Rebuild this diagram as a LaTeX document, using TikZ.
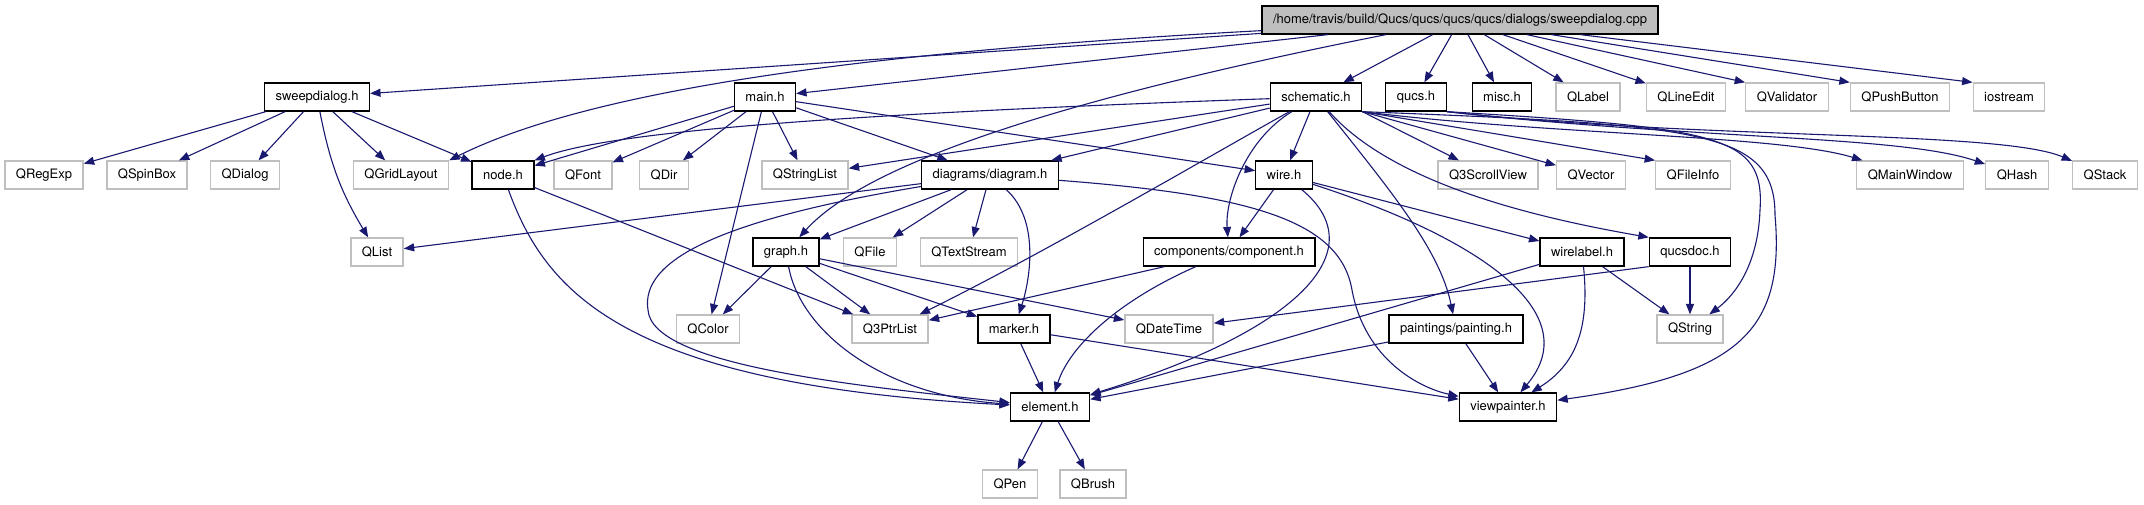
\documentclass[tikz,border=0pt]{standalone}
\usepackage{fontspec}
\setmainfont{TeX Gyre Heros}
\usetikzlibrary{arrows.meta}
\definecolor{edgeblue}{HTML}{191970}
\definecolor{qtgray}{HTML}{BFBFBF}

\begin{document}
\begin{tikzpicture}[x=0.5pt, y=-0.5pt,
    box/.style={draw, rectangle, minimum height=14pt, inner xsep=5.5pt, inner ysep=0pt, font=\fontsize{6.5}{7.8}\selectfont, line width=0.65pt},
    filebox/.style={box, draw=black},
    qtbox/.style={box, draw=qtgray},
    srcbox/.style={box, draw=black, fill=qtgray},
    arr/.style={-{Triangle[length=5.2pt, width=4pt]}, draw=edgeblue, line width=0.55pt},
]
\useasboundingbox (0,0) rectangle (2144,504);

% Source file
\node[srcbox] (root) at (1460,20) {/home/travis/build/Qucs/qucs/qucs/qucs/dialogs/sweepdialog.cpp};

% Direct includes
\node[filebox] (sweep) at (317,97) {sweepdialog.h};
\node[filebox] (mainh) at (765,97) {main.h};
\node[filebox] (schematic) at (1316,97) {schematic.h};
\node[filebox] (qucsh) at (1416,97) {qucs.h};
\node[filebox] (misch) at (1502,97) {misc.h};
\node[qtbox] (qlabel) at (1588,97) {QLabel};
\node[qtbox] (qlineedit) at (1686,97) {QLineEdit};
\node[qtbox] (qvalidator) at (1787,97) {QValidator};
\node[qtbox] (qpushbutton) at (1900,97) {QPushButton};
\node[qtbox] (iostream) at (2009,97) {iostream};

% Second level
\node[qtbox] (qregexp) at (44,175) {QRegExp};
\node[qtbox] (qspinbox) at (147,175) {QSpinBox};
\node[qtbox] (qdialog) at (245,175) {QDialog};
\node[qtbox] (qgridlayout) at (401,175) {QGridLayout};
\node[filebox] (nodeh) at (503,175) {node.h};
\node[qtbox] (qfont) at (583,175) {QFont};
\node[qtbox] (qdir) at (664,175) {QDir};
\node[qtbox] (qstringlist) at (805,175) {QStringList};
\node[filebox] (diagram) at (990,175) {diagrams/diagram.h};
\node[filebox] (wireh) at (1284,175) {wire.h};
\node[qtbox] (qscrollview) at (1488,175) {Q3ScrollView};
\node[qtbox] (qvector) at (1591,175) {QVector};
\node[qtbox] (qfileinfo) at (1693,175) {QFileInfo};
\node[qtbox] (qmainwindow) at (1910,175) {QMainWindow};
\node[qtbox] (qhash) at (2017,175) {QHash};
\node[qtbox] (qstack) at (2105,175) {QStack};

% Third level
\node[qtbox] (qlist) at (377,252) {QList};
\node[filebox] (graphh) at (786,252) {graph.h};
\node[qtbox] (qfile) at (870,252) {QFile};
\node[qtbox] (qtextstream) at (969,252) {QTextStream};
\node[filebox] (component) at (1229,252) {components/component.h};
\node[filebox] (wirelabel) at (1582,252) {wirelabel.h};
\node[filebox] (qucsdoc) at (1690,252) {qucsdoc.h};

% Fourth level
\node[qtbox] (qcolor) at (708,329) {QColor};
\node[qtbox] (qptrlist) at (890,329) {Q3PtrList};
\node[filebox] (marker) at (1014,329) {marker.h};
\node[qtbox] (qdatetime) at (1169,329) {QDateTime};
\node[filebox] (painting) at (1456,329) {paintings/painting.h};
\node[qtbox] (qstring) at (1690,329) {QString};

% Bottom
\node[filebox] (element) at (1050,407) {element.h};
\node[filebox] (viewpainter) at (1508,407) {viewpainter.h};
\node[qtbox] (qpen) at (1010,484) {QPen};
\node[qtbox] (qbrush) at (1093,484) {QBrush};

% Arrows from the source file
\draw[arr] (root) -- (sweep);
\draw[arr] (root) .. controls (900,50) and (600,85) .. (qgridlayout.north east);
\draw[arr] (root) -- (mainh);
\draw[arr] (root) .. controls (1030,105) and (860,170) .. (graphh);
\draw[arr] (root) -- (schematic);
\draw[arr] (root) -- (qucsh);
\draw[arr] (root) -- (misch);
\draw[arr] (root) -- (qlabel);
\draw[arr] (root) -- (qlineedit);
\draw[arr] (root) -- (qvalidator.north west);
\draw[arr] (root) -- (qpushbutton.north west);
\draw[arr] (root) -- (iostream.north west);

% sweepdialog.h
\draw[arr] (sweep) -- (qregexp);
\draw[arr] (sweep) -- (qspinbox);
\draw[arr] (sweep) -- (qdialog);
\draw[arr] (sweep) to[bend right=10] (qlist);
\draw[arr] (sweep) -- (qgridlayout);
\draw[arr] (sweep) -- (nodeh);

% main.h
\draw[arr] (mainh) -- (nodeh);
\draw[arr] (mainh) -- (qfont);
\draw[arr] (mainh) -- (qdir);
\draw[arr] (mainh) -- (qcolor);
\draw[arr] (mainh) -- (qstringlist);
\draw[arr] (mainh) -- (diagram);
\draw[arr] (mainh) -- (wireh);

% schematic.h
\draw[arr] (schematic) .. controls (900,112) and (620,128) .. (nodeh.north east);
\draw[arr] (schematic) -- (qstringlist);
\draw[arr] (schematic) -- (diagram);
\draw[arr] (schematic) -- (wireh);
\draw[arr] (schematic) .. controls (1245,140) and (1225,200) .. (component);
\draw[arr] (schematic) .. controls (1220,150) and (1050,250) .. (qptrlist);
\draw[arr] (schematic) .. controls (1390,190) and (1440,250) .. (painting);
\draw[arr] (schematic) .. controls (1390,180) and (1520,215) .. (qucsdoc.north west);
\draw[arr] (schematic.south east) -- (qscrollview);
\draw[arr] (schematic.south east) -- (qvector);
\draw[arr] (schematic.south east) -- (qfileinfo.north west);
\draw[arr] (schematic.south east) .. controls (1550,135) and (1780,135) .. (qmainwindow);
\draw[arr] (schematic.south east) .. controls (1700,125) and (1775,130) .. (1775,215)
    .. controls (1785,330) and (1740,375) .. (viewpainter);

% qucs.h
\draw[arr] (qucsh.south east) .. controls (1700,140) and (1900,135) .. (qhash);
\draw[arr] (qucsh.south east) .. controls (1700,140) and (2000,130) .. (qstack);
\draw[arr] (qucsh.south east) .. controls (1720,128) and (1765,135) .. (1760,210)
    .. controls (1758,265) and (1735,295) .. (qstring);

% diagrams/diagram.h
\draw[arr] (diagram) -- (qlist);
\draw[arr] (diagram) -- (graphh);
\draw[arr] (diagram) -- (qfile);
\draw[arr] (diagram) -- (qtextstream);
\draw[arr] (diagram) .. controls (1040,220) and (1030,280) .. (marker);
\draw[arr] (diagram) .. controls (720,220) and (640,260) .. (648,310)
    .. controls (652,365) and (850,385) .. (element);
\draw[arr] (diagram) .. controls (1250,195) and (1340,220) .. (1352,290)
    .. controls (1365,360) and (1420,388) .. (viewpainter);

% wire.h
\draw[arr] (wireh) -- (component);
\draw[arr] (wireh) -- (wirelabel);
\draw[arr] (wireh) .. controls (1470,235) and (1590,310) .. (viewpainter);
\draw[arr] (wireh) .. controls (1375,250) and (1300,330) .. (element);

% node.h and graph.h
\draw[arr] (nodeh) -- (qptrlist);
\draw[arr] (nodeh) .. controls (545,290) and (620,385) .. (element);
\draw[arr] (graphh) -- (qcolor);
\draw[arr] (graphh) -- (qptrlist);
\draw[arr] (graphh) -- (marker);
\draw[arr] (graphh) -- (qdatetime);
\draw[arr] (graphh) .. controls (800,330) and (880,395) .. (element);

% components/component.h
\draw[arr] (component) -- (qptrlist);
\draw[arr] (component) .. controls (1120,300) and (1070,345) .. (element);

% wirelabel.h and qucsdoc.h
\draw[arr] (wirelabel) -- (element);
\draw[arr] (wirelabel) .. controls (1590,330) and (1575,365) .. (viewpainter);
\draw[arr] (wirelabel) -- (qstring);
\draw[arr] (qucsdoc.south west) -- (qdatetime);
\draw[arr] (qucsdoc) -- (qstring);

% marker.h and paintings/painting.h
\draw[arr] (marker) -- (element);
\draw[arr] (marker) -- (viewpainter);
\draw[arr] (painting) -- (element);
\draw[arr] (painting) -- (viewpainter);

% element.h
\draw[arr] (element) -- (qpen);
\draw[arr] (element) -- (qbrush);
\end{tikzpicture}
\end{document}
